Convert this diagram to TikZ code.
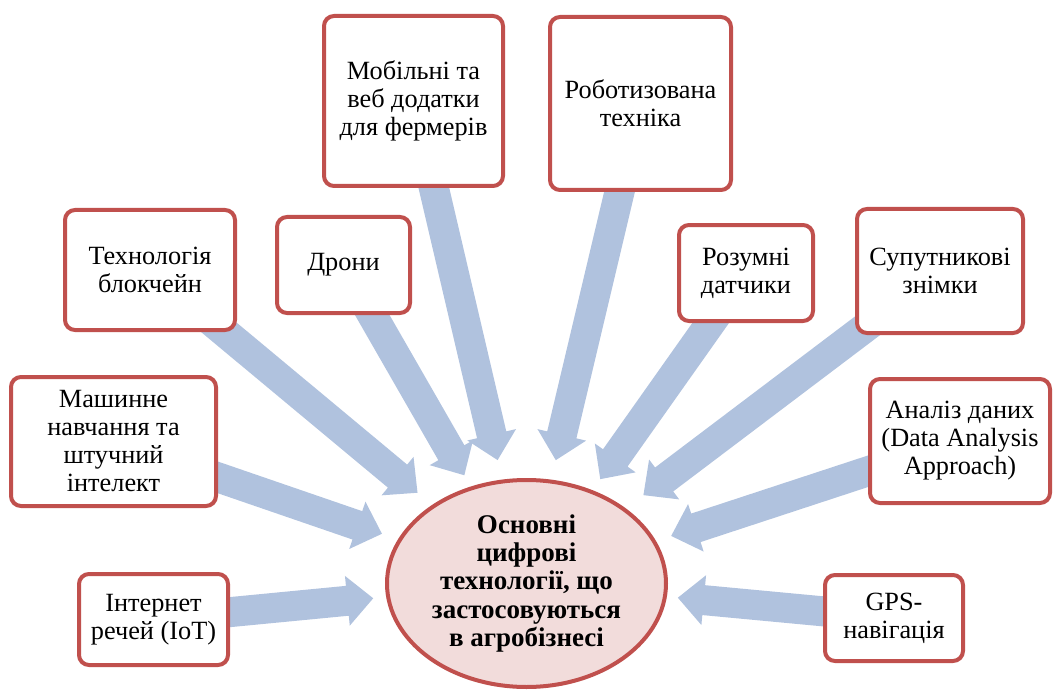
\documentclass[tikz,border=0pt]{standalone}
\usepackage{fontspec}
\setmainfont{Liberation Serif}
\usetikzlibrary{shapes.geometric,calc,backgrounds}
\definecolor{boxred}{RGB}{192,80,77}
\definecolor{ellfill}{RGB}{242,220,219}
\definecolor{arrowblue}{RGB}{176,194,222}
\newcommand\radarrow[3]{%
  \path (#1.center) -- (ctr) coordinate[pos=1] (#1b);
  \coordinate (#1t) at ($(#1b)!#2!(#1.center)$);
  \coordinate (#1h) at ($(#1t)!26pt!(#1.center)$);
  \fill[arrowblue] ($(#1.center)!15pt!90:(#1t)$) -- ($(#1h)!15pt!90:(#1t)$)
    -- ($(#1h)!25pt!90:(#1t)$) -- (#1t) -- ($(#1h)!25pt!-90:(#1t)$)
    -- ($(#1h)!15pt!-90:(#1t)$) -- ($(#1.center)!15pt!-90:(#1t)$) -- cycle;
}
\tikzset{
  box/.style={draw=boxred, line width=4pt, fill=white, rounded corners=10pt,
    align=center, inner sep=0pt, font=\fontsize{26.3}{28}\selectfont},
  hub/.style={ellipse, draw=boxred, line width=4pt, fill=ellfill, align=center,
    inner sep=0pt, font=\bfseries\fontsize{27}{28.3}\selectfont}
}
\begin{document}
\begin{tikzpicture}[x=1pt,y=-1pt]
\useasboundingbox (0,0) rectangle (1053,690);
\node[hub, minimum width=279pt, minimum height=207pt] (ctr) at (526.5,583.5)
  {Основні\\цифрові\\технології, що\\застосовуються\\в агробізнесі};
\node[box, minimum width=179pt, minimum height=170pt] (mob) at (413.5,101)
  {Мобільні та\\веб додатки\\для фермерів};
\node[box, minimum width=181pt, minimum height=173pt] (rob) at (640.5,103.5)
  {Роботизована\\техніка};
\node[box, minimum width=133pt, minimum height=96pt] (dron) at (343.5,265)
  {Дрони};
\node[box, minimum width=170pt, minimum height=120pt] (bc) at (150,270)
  {Технологія\\блокчейн};
\node[box, minimum width=134pt, minimum height=96pt] (sens) at (746,273)
  {Розумні\\датчики};
\node[box, minimum width=166pt, minimum height=124pt] (sat) at (940,271)
  {Супутникові\\знімки};
\node[box, minimum width=180pt, minimum height=124pt] (data) at (960,441)
  {Аналіз даних\\(Data Analysis\\Approach)};
\node[box, minimum width=138pt, minimum height=86pt] (gps) at (894,618)
  {GPS-\\навігація};
\node[box, minimum width=205pt, minimum height=129pt] (ml) at (113.5,441.5)
  {Машинне\\навчання та\\штучний\\інтелект};
\node[box, minimum width=149pt, minimum height=91pt] (iot) at (153.5,619.5)
  {Інтернет\\речей (IoT)};
\begin{pgfonlayer}{background}
\radarrow{mob}{20pt}{}
\radarrow{rob}{20pt}{}
\radarrow{dron}{13pt}{}
\radarrow{bc}{19pt}{}
\radarrow{sens}{13.5pt}{}
\radarrow{sat}{22pt}{}
\radarrow{data}{16pt}{}
\radarrow{gps}{11pt}{}
\radarrow{ml}{17pt}{}
\radarrow{iot}{13pt}{}
\end{pgfonlayer}
\end{tikzpicture}
\end{document}
